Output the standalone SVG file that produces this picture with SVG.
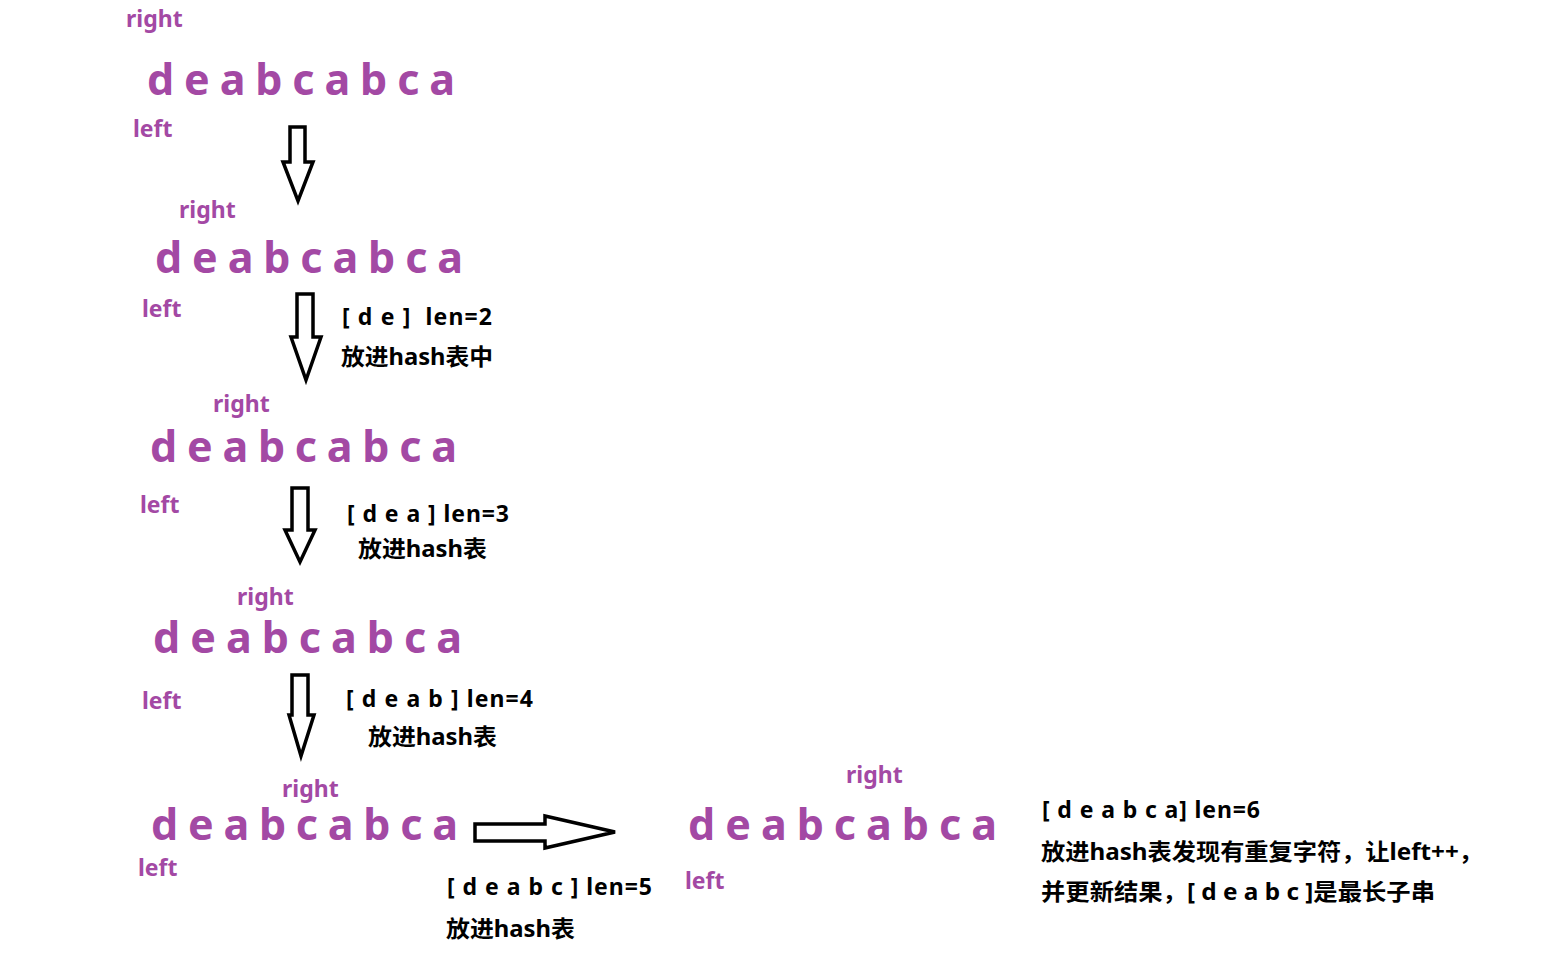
<svg xmlns="http://www.w3.org/2000/svg" width="1545" height="956" viewBox="0 0 1545 956">
<style>
.bg{fill:#ffffff}
.p{fill:#A349A4;font-family:"Noto Sans","Noto Sans CJK SC",sans-serif;font-weight:700}
.lbl{font-size:23px}
.str{font-size:43px}
.k{fill:#000000;font-family:"Noto Sans","Noto Sans CJK SC",sans-serif;font-weight:700;font-size:23px}
.arr{fill:#ffffff;stroke:#000000;stroke-width:3.5;stroke-linejoin:miter}
</style>
<rect class="bg" x="0" y="0" width="1545" height="956"/>
<g id="row1">
<text class="p lbl" x="126" y="27">right</text>
<text class="p str" x="147" y="95" textLength="308" lengthAdjust="spacing">d e a b c a b c a</text>
<text class="p lbl" x="133" y="137">left</text>
</g>
<g id="row2">
<text class="p lbl" x="179" y="218">right</text>
<text class="p str" x="155" y="273" textLength="308" lengthAdjust="spacing">d e a b c a b c a</text>
<text class="p lbl" x="142" y="317">left</text>
<text class="k" x="342" y="325" xml:space="preserve" textLength="150" lengthAdjust="spacing">[ d e ]  len=2</text>
<text class="k" x="341" y="365" textLength="152" lengthAdjust="spacingAndGlyphs">放进hash表中</text>
</g>
<g id="row3">
<text class="p lbl" x="213" y="412">right</text>
<text class="p str" x="150" y="462" textLength="307" lengthAdjust="spacing">d e a b c a b c a</text>
<text class="p lbl" x="140" y="513">left</text>
<text class="k" x="347" y="522" xml:space="preserve" textLength="162" lengthAdjust="spacing">[ d e a ] len=3</text>
<text class="k" x="358" y="557" textLength="129" lengthAdjust="spacingAndGlyphs">放进hash表</text>
</g>
<g id="row4">
<text class="p lbl" x="237" y="605">right</text>
<text class="p str" x="153" y="653" textLength="309" lengthAdjust="spacing">d e a b c a b c a</text>
<text class="p lbl" x="142" y="709">left</text>
<text class="k" x="346" y="707" xml:space="preserve" textLength="187" lengthAdjust="spacing">[ d e a b ] len=4</text>
<text class="k" x="368" y="745" textLength="129" lengthAdjust="spacingAndGlyphs">放进hash表</text>
</g>
<g id="row5">
<text class="p lbl" x="282" y="797">right</text>
<text class="p str" x="151" y="840" textLength="307" lengthAdjust="spacing">d e a b c a b c a</text>
<text class="p lbl" x="138" y="876">left</text>
<text class="k" x="447" y="895" xml:space="preserve" textLength="205" lengthAdjust="spacing">[ d e a b c ] len=5</text>
<text class="k" x="446" y="937" textLength="129" lengthAdjust="spacingAndGlyphs">放进hash表</text>
</g>
<g id="row6">
<text class="p lbl" x="846" y="783">right</text>
<text class="p str" x="688" y="840" textLength="309" lengthAdjust="spacing">d e a b c a b c a</text>
<text class="p lbl" x="685" y="889">left</text>
<text class="k" x="1042" y="818" xml:space="preserve" textLength="218" lengthAdjust="spacing">[ d e a b c a] len=6</text>
<text class="k" x="1041" y="860" textLength="442" lengthAdjust="spacingAndGlyphs">放进hash表发现有重复字符，让left++，</text>
<text class="k" x="1041" y="900" xml:space="preserve" textLength="394" lengthAdjust="spacingAndGlyphs">并更新结果，[ d e a b c ]是最长子串</text>
</g>
<g id="connectors">
<polygon class="arr" points="290,127 305,127 305,162 313,162 298,201 283,162 290,162"/>
<polygon class="arr" points="297,294 313,294 313,337 321,337 306,380 291,337 297,337"/>
<polygon class="arr" points="292,488 308,488 308,530 315,530 300,562 285,530 292,530"/>
<polygon class="arr" points="292,675 308,675 308,715 314,715 301,756 289,715 292,715"/>
<polygon class="arr" points="475,824 545,824 545,816 615,832 545,848 545,841 475,841"/>
</g>
</svg>
